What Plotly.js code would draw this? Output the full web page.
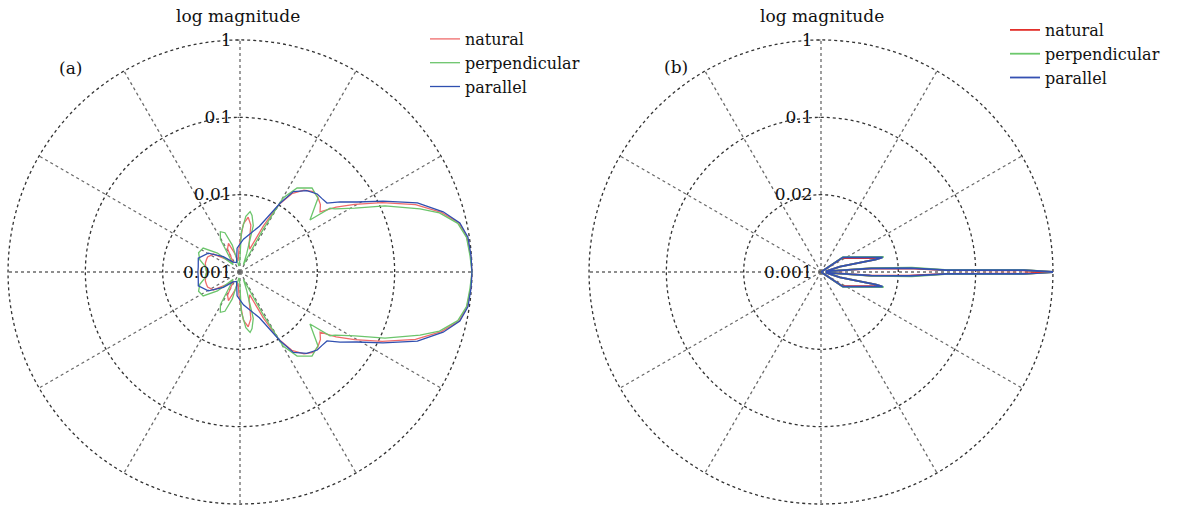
<!DOCTYPE html>
<html>
<head>
<meta charset="utf-8">
<script src="https://cdn.plot.ly/plotly-3.0.1.min.js"></script>
<style>html,body{margin:0;padding:0;background:#fff;}#chart{width:1190px;height:514px;}</style>
</head>
<body>
<div id="chart"></div>
<script>
// ---------- data: panel (a) ----------
var thetaA_natural = [-180,-172,-166,-160,-155,-146,-136,-126,-118,-112,-106,-100,-92,-86,-81.5,-77,-72,-67,-63,-60,-56.5,-52,-47.6,-44,-40,-36.9,-34,-30.5,-26,-21,-16.5,-12.6,-8.7,-4,
  0,4,8.7,12.6,16.5,21,26,30.5,34,36.9,40,44,47.6,52,56.5,60,63,67,72,77,81.5,86,92,100,106,112,118,126,136,146,155,160,166,172,180];
var rA_natural = [0.0027,0.0028,0.0029,0.0029,0.0029,0.0026,0.0017,0.0014,0.0022,0.0025,0.0018,0.0014,0.0021,0.0042,0.0052,0.0042,0.0024,0.0021,0.0047,0.0102,0.0164,0.0221,0.0255,0.025,0.0228,0.0197,0.0316,0.0526,0.111,0.27,0.52,0.80,0.93,0.98,
  1.0,0.98,0.93,0.80,0.52,0.27,0.111,0.0526,0.0316,0.0197,0.0228,0.025,0.0255,0.0221,0.0164,0.0102,0.0047,0.0021,0.0024,0.0042,0.0052,0.0042,0.0021,0.0014,0.0018,0.0025,0.0022,0.0014,0.0017,0.0026,0.0029,0.0029,0.0029,0.0028,0.0027];

var thetaA_perp = [-180,-170,-163,-155,-147,-140,-133,-127,-121,-116,-111,-106,-100,-93,-88,-84,-80.5,-78,-74,-70,-65,-61.5,-59.8,-55.8,-49.4,-43.4,-36.6,-35.3,-33.6,-29.1,-24.5,-19.3,-16.5,-12.6,-8.7,-4,
  0,4,8.7,12.6,16.5,19.3,24.5,29.1,33.6,35.3,36.6,43.4,49.4,55.8,59.8,61.5,65,70,74,78,80.5,84,88,93,100,106,111,116,121,127,133,140,147,155,163,170,180];
var rA_perp = [0.0027,0.0029,0.0035,0.0039,0.0037,0.0024,0.00135,0.00156,0.0031,0.0038,0.0035,0.0023,0.0012,0.00127,0.0033,0.0053,0.0062,0.0056,0.0042,0.0018,0.00127,0.0042,0.0128,0.0206,0.027,0.0244,0.0134,0.0267,0.030,0.050,0.115,0.293,0.49,0.77,0.92,0.96,
  1.0,0.96,0.92,0.77,0.49,0.293,0.115,0.050,0.030,0.0267,0.0134,0.0244,0.027,0.0206,0.0128,0.0042,0.00127,0.0018,0.0042,0.0056,0.0062,0.0053,0.0033,0.00127,0.0012,0.0023,0.0035,0.0038,0.0031,0.00156,0.00135,0.0024,0.0037,0.0039,0.0035,0.0029,0.0027];

var thetaA_par = [-180,-173.2,-161.6,-149.3,-137.5,-125,-110,-97,-84,-67,-59.8,-56.4,-50.6,-45.3,-42,-38.4,-35,-30.9,-26.4,-21.3,-16.5,-12.6,-8.7,-4,
  0,4,8.7,12.6,16.5,21.3,26.4,30.9,35,38.4,42,45.3,50.6,56.4,59.8,67,84,97,110,125,137.5,149.3,161.6,173.2,180];
var rA_par = [0.0035,0.0035,0.0037,0.0030,0.00196,0.00143,0.00135,0.00204,0.00267,0.0044,0.0107,0.0177,0.023,0.0263,0.0265,0.0273,0.038,0.058,0.116,0.29,0.55,0.82,0.96,0.99,
  1.0,0.99,0.96,0.82,0.55,0.29,0.116,0.058,0.038,0.0273,0.0265,0.0263,0.023,0.0177,0.0107,0.0044,0.00267,0.00204,0.00135,0.00143,0.00196,0.0030,0.0037,0.0035,0.0035];

// ---------- data: panel (b) ----------
var thetaB_natural = [-40,-33.7,-13.3,-12.8,-15.6,-8,-4.1,-2.4,-0.9,-0.5,0,0.5,0.9,2.4,4.1,8,15.6,12.8,13.3,33.7,40];
var rB_natural = [0.001,0.0021,0.0063,0.0052,0.0018,0.00115,0.0043,0.0135,0.040,0.40,1.0,0.40,0.040,0.0135,0.0043,0.00115,0.0018,0.0052,0.0063,0.0021,0.001];
var thetaB_perp = [-40,-34,-13.5,-12.8,-15.6,-8,-4.5,-2.8,-1.0,-0.6,0,0.6,1.0,2.8,4.5,8,15.6,12.8,13.5,34,40];
var rB_perp = [0.001,0.0022,0.0068,0.0054,0.0018,0.00115,0.0045,0.0150,0.040,0.40,1.0,0.40,0.040,0.0150,0.0045,0.00115,0.0018,0.0054,0.0068,0.0022,0.001];
var thetaB_par = [-40,-33.7,-13.3,-12.8,-15.6,-8,-4.2,-2.5,-0.9,-0.55,0,0.55,0.9,2.5,4.2,8,15.6,12.8,13.3,33.7,40];
var rB_par = [0.001,0.0022,0.0066,0.0054,0.0018,0.00115,0.0045,0.0145,0.042,0.42,1.0,0.42,0.042,0.0145,0.0045,0.00115,0.0018,0.0054,0.0066,0.0022,0.001];

// ---------- labels ----------
var seriesNames = ['natural','perpendicular','parallel'];
var radialTicks = [0.001, 0.01, 0.1, 1];
var radialTextA = ['0.001','0.01','0.1','1'];
var radialTextB = ['0.001','0.02','0.1','1'];
var panelLabels = ['(a)','(b)'];
var axisTitle = 'log magnitude';

var colA = ['#ef6b6b','#6cc56c','#2f4fb0'];
var colB = ['#e2302b','#6cc86c','#3550b2'];

function tr(th, r, name, color, sub, leg, w) {
  return {type:'scatterpolar', mode:'lines', theta:th, r:r, name:name, subplot:sub, legend:leg,
          line:{color:color, width:w}, hoverinfo:'skip'};
}
var data = [
  tr(thetaA_natural, rA_natural, seriesNames[0], colA[0], 'polar', 'legend', 1.3),
  tr(thetaA_perp, rA_perp, seriesNames[1], colA[1], 'polar', 'legend', 1.3),
  tr(thetaA_par, rA_par, seriesNames[2], colA[2], 'polar', 'legend', 1.3),
  tr(thetaB_natural, rB_natural, seriesNames[0], colB[0], 'polar2', 'legend2', 1.8),
  tr(thetaB_perp, rB_perp, seriesNames[1], colB[1], 'polar2', 'legend2', 1.8),
  tr(thetaB_par, rB_par, seriesNames[2], colB[2], 'polar2', 'legend2', 1.8)
];

var FONT = 'DejaVu Serif, Liberation Serif, serif';
function polarCfg(dx, dy, ticktext) {
  return {
    domain:{x:dx, y:dy},
    bgcolor:'rgba(0,0,0,0)',
    angularaxis:{rotation:0, direction:'counterclockwise', dtick:30, showticklabels:false, ticks:'',
      showline:false, showgrid:true, gridcolor:'#6a6a6a', griddash:'dot', gridwidth:1.3},
    radialaxis:{type:'log', range:[-3,0.02], tickmode:'array', tickvals:radialTicks, ticktext:ticktext,
      angle:90, side:'counterclockwise', tickangle:90, showline:false, showgrid:true, gridcolor:'#333', griddash:'dot', gridwidth:1.3,
      ticks:'outside', ticklen:2, tickcolor:'#444', tickfont:{family:FONT, size:17, color:'#111'}}
  };
}

var layout = {
  width:1190, height:514,
  margin:{l:0,r:0,t:0,b:0},
  paper_bgcolor:'#fff', plot_bgcolor:'#fff',
  font:{family:FONT, size:16, color:'#111'},
  polar: polarCfg([6.5/1190, 473.5/1190], [8.5/514, 475.5/514], radialTextA),
  polar2: polarCfg([587.5/1190, 1054.5/1190], [8.5/514, 475.5/514], radialTextB),
  legend:{x:425/1190, y:(514-22)/514, xanchor:'left', yanchor:'top', bgcolor:'rgba(255,255,255,0)',
    font:{family:FONT, size:16, color:'#111'}, tracegroupgap:0, itemwidth:30},
  legend2:{x:1005/1190, y:(514-13)/514, xanchor:'left', yanchor:'top', bgcolor:'rgba(255,255,255,0)',
    font:{family:FONT, size:16, color:'#111'}, tracegroupgap:0, itemwidth:30},
  annotations:[
    {text:axisTitle, xref:'paper', yref:'paper', x:238/1190, y:(514-16)/514, showarrow:false, xanchor:'center', yanchor:'middle', font:{family:FONT,size:17,color:'#111'}},
    {text:axisTitle, xref:'paper', yref:'paper', x:822/1190, y:(514-16)/514, showarrow:false, xanchor:'center', yanchor:'middle', font:{family:FONT,size:17,color:'#111'}},
    {text:panelLabels[0], xref:'paper', yref:'paper', x:70/1190, y:(514-68)/514, showarrow:false, xanchor:'center', yanchor:'middle', font:{family:FONT,size:17,color:'#111'}},
    {text:panelLabels[1], xref:'paper', yref:'paper', x:676/1190, y:(514-67)/514, showarrow:false, xanchor:'center', yanchor:'middle', font:{family:FONT,size:17,color:'#111'}}
  ]
};

Plotly.newPlot('chart', data, layout, {displayModeBar:false, staticPlot:true});
</script>
</body>
</html>
